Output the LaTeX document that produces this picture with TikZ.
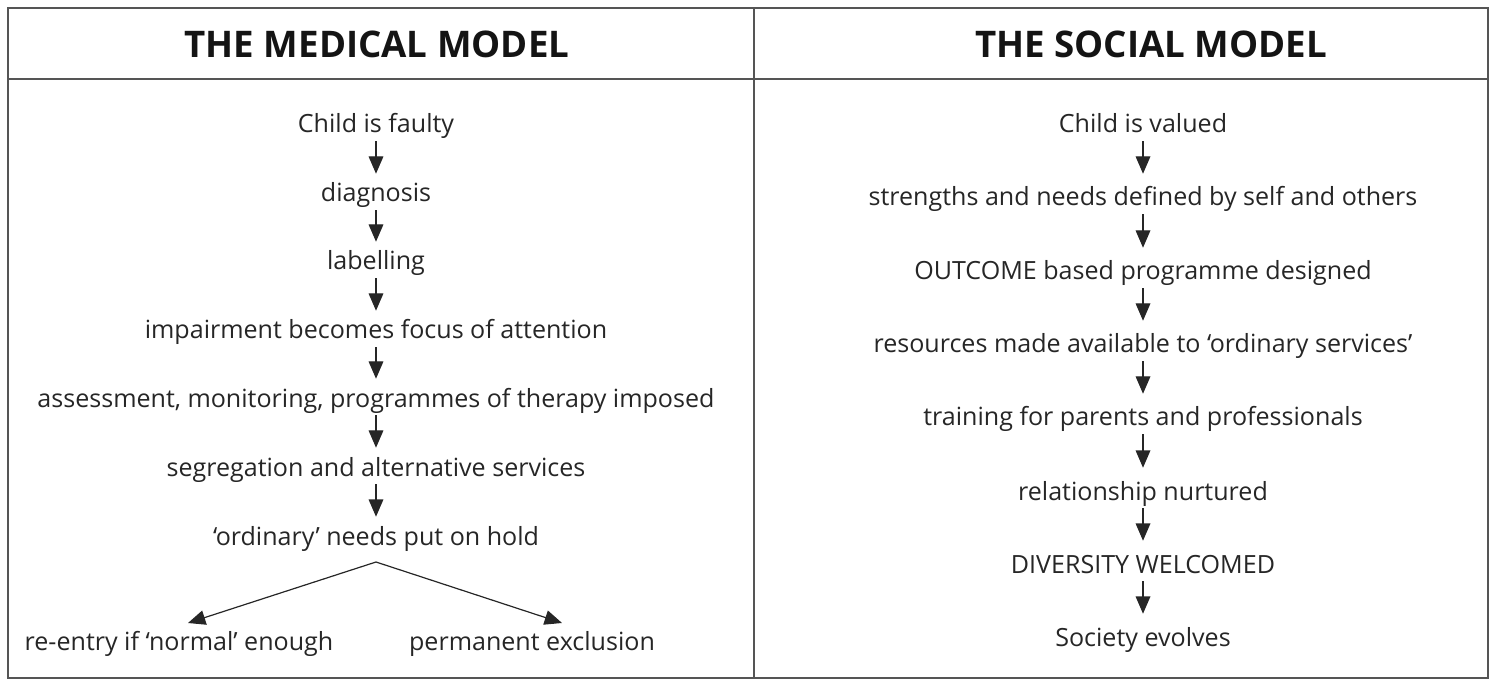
\documentclass[tikz,border=0pt]{standalone}
\usepackage{fontspec}
\setmainfont{Open Sans}
\usepackage{tikz}
\usepackage{color}
\usetikzlibrary{arrows.meta}

\definecolor{inkgray}{RGB}{38,38,38}
\definecolor{rulegray}{RGB}{85,85,85}

\tikzset{
  flowtext/.style={anchor=base, inner sep=0pt, text=inkgray, text depth=6pt, font=\fontsize{18.8}{22}\selectfont},
  medstep/.style={flowtext, text height=21pt},
  socstep/.style={flowtext, text height=24pt},
  headtext/.style={anchor=base, inner sep=0pt, text=black!92, font=\bfseries\fontsize{27.5}{32}\selectfont},
  flowarrow/.style={draw=inkgray, line width=0.9pt, -{Triangle[length=13pt,width=11pt]}},
}

\begin{document}
\begin{tikzpicture}[x=0.75pt,y=0.75pt,yscale=-1,xscale=1]
\useasboundingbox (0,0) rectangle (1491,680);

%Shape: Frame
\draw  [color=rulegray, line width=1.5pt] (8,8) rectangle (1488,678) ;
%Straight Lines: header rule and divider
\draw  [color=rulegray, line width=1.5pt] (8,79) -- (1488,79) ;
\draw  [color=rulegray, line width=1.2pt] (754,8) -- (754,678) ;

% Text Node: headers
\node [headtext] (medhead) at (377,58) {THE MEDICAL MODEL};
\node [headtext] (sochead) at (1151,58) {THE SOCIAL MODEL};

% Text Node: medical column
\node [medstep] (faulty) at (376,133) {Child is faulty};
\node [medstep] (diagnosis) at (376,202) {diagnosis};
\node [medstep] (labelling) at (376,270) {labelling};
\node [medstep] (impairment) at (376,339) {impairment becomes focus of attention};
\node [medstep] (assessment) at (376,407) {assessment, monitoring, programmes of therapy imposed};
\node [medstep] (segregation) at (376,476) {segregation and alternative services};
\node [medstep] (ordinary) at (376,545) {‘ordinary’ needs put on hold};
\node [medstep] (reentry) at (179,650) {re-entry if ‘normal’ enough};
\node [medstep] (exclusion) at (532,650) {permanent exclusion};

% Text Node: social column
\node [socstep] (valued) at (1143,133) {Child is valued};
\node [socstep] (strengths) at (1143,206) {strengths and needs defined by self and others};
\node [socstep] (outcome) at (1143,280) {OUTCOME based programme designed};
\node [socstep] (resources) at (1143,353) {resources made available to ‘ordinary services’};
\node [socstep] (training) at (1143,426) {training for parents and professionals};
\node [socstep] (relationship) at (1143,500) {relationship nurtured};
\node [socstep] (diversity) at (1143,573) {DIVERSITY WELCOMED};
\node [socstep] (evolves) at (1143,646) {Society evolves};

%Straight Lines: medical arrows
\draw [flowarrow] (faulty) -- (diagnosis);
\draw [flowarrow] (diagnosis) -- (labelling);
\draw [flowarrow] (labelling) -- (impairment);
\draw [flowarrow] (impairment) -- (assessment);
\draw [flowarrow] (assessment) -- (segregation);
\draw [flowarrow] (segregation) -- (ordinary);

%Straight Lines: fork
\coordinate (fork) at (376,562);
\coordinate (leftend) at (188,623);
\coordinate (rightend) at (562,623);
\draw [flowarrow] (fork) -- (leftend);
\draw [flowarrow] (fork) -- (rightend);

%Straight Lines: social arrows
\draw [flowarrow] (valued) -- (strengths);
\draw [flowarrow] (strengths) -- (outcome);
\draw [flowarrow] (outcome) -- (resources);
\draw [flowarrow] (resources) -- (training);
\draw [flowarrow] (training) -- (relationship);
\draw [flowarrow] (relationship) -- (diversity);
\draw [flowarrow] (diversity) -- (evolves);

\end{tikzpicture}
\end{document}
